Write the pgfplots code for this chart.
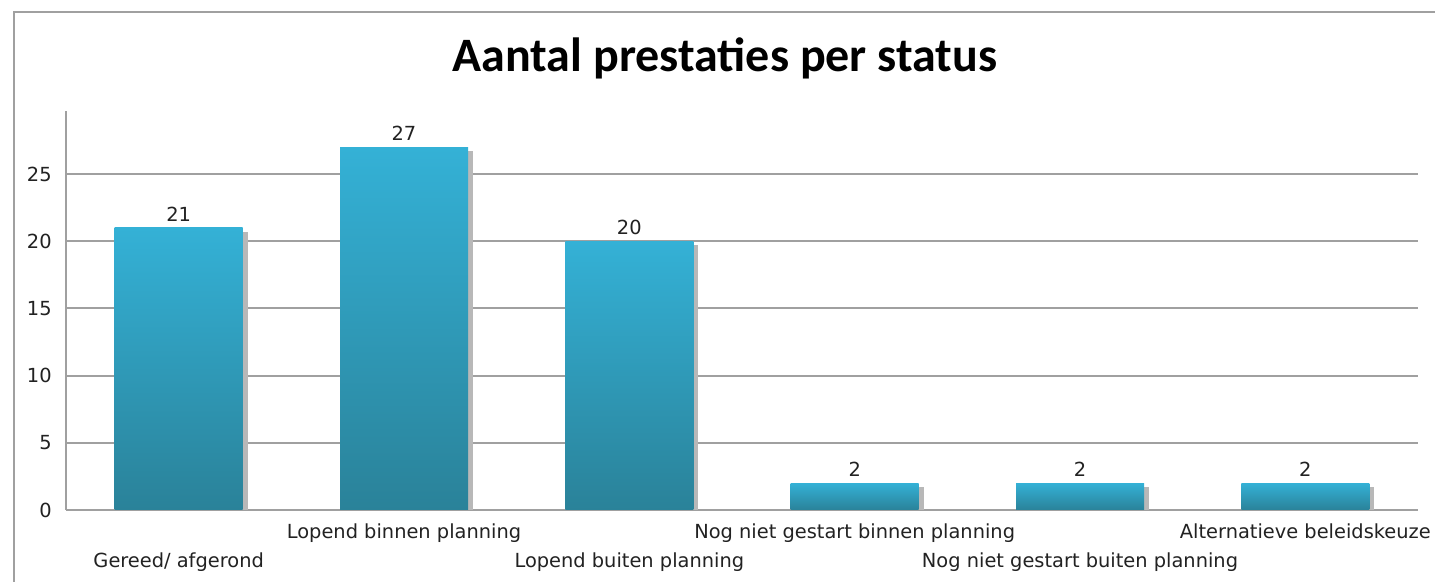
\documentclass[border=0pt]{standalone}
\usepackage{pgfplots}
\pgfplotsset{compat=1.18}
\usepackage{fontspec}
\setmainfont{DejaVu Sans}
\newfontfamily\titlefont{Carlito}
\definecolor{bartop}{HTML}{34B1D6}
\definecolor{barbot}{HTML}{2A8299}
\definecolor{gridc}{HTML}{A0A0A0}
\definecolor{txt}{HTML}{222222}
\pgfplotsset{
  shadowbar/.style={ybar, bar width=64pt, bar shift=2.5pt, fill=black!28, draw=none, yshift=-2pt, forget plot},
  mainbar/.style={ybar, bar width=64pt, bar shift=0pt, draw=none, top color=bartop, bottom color=barbot,
    nodes near coords,
    every node near coord/.append style={anchor=south, inner sep=0pt, yshift=3pt, text=txt, font=\fontsize{9.7pt}{11pt}\selectfont}},
}
\begin{document}
\begin{tikzpicture}
\useasboundingbox (0,0) rectangle (717.5pt,291pt);
\fill[white] (0,0) rectangle (717.5pt,291pt);
\draw[gridc, line width=1pt] (7pt,0) -- (7pt,285pt) -- (717.5pt,285pt);
\node[anchor=base, inner sep=0pt, font=\titlefont\bfseries\fontsize{24pt}{28pt}\selectfont] at (362.5pt,255pt) {Aantal prestaties per status};
\begin{axis}[
  at={(33pt,36pt)}, anchor=south west, scale only axis,
  width=676pt, height=199.5pt,
  xmin=-0.5, xmax=5.5, ymin=0, ymax=29.7,
  axis x line*=bottom, axis y line*=left,
  axis line style={gridc, line width=1pt, -},
  ytick={0,5,10,15,20,25},
  ymajorgrids, grid style={gridc, line width=1pt},
  major tick length=0pt,
  /pgf/number format/assume math mode=true,
  tick label style={font=\fontsize{9.7pt}{11pt}\selectfont, text=txt},
  yticklabel style={anchor=east, inner sep=0pt, xshift=-7pt},
  xtick={0,2,4},
  xticklabels={Gereed/ afgerond, Lopend buiten planning, Nog niet gestart buiten planning},
  xticklabel style={anchor=base, inner sep=0pt, yshift=-29pt},
  extra x ticks={1,3,5},
  extra x tick labels={Lopend binnen planning, Nog niet gestart binnen planning, Alternatieve beleidskeuze},
  extra x tick style={grid=none, xticklabel style={yshift=14.5pt}},
]
\addplot[shadowbar] coordinates {(0,21)};
\addplot[shadowbar] coordinates {(1,27)};
\addplot[shadowbar] coordinates {(2,20)};
\addplot[shadowbar] coordinates {(3,2)};
\addplot[shadowbar] coordinates {(4,2)};
\addplot[shadowbar] coordinates {(5,2)};
\addplot[mainbar] coordinates {(0,21)};
\addplot[mainbar] coordinates {(1,27)};
\addplot[mainbar] coordinates {(2,20)};
\addplot[mainbar] coordinates {(3,2)};
\addplot[mainbar] coordinates {(4,2)};
\addplot[mainbar] coordinates {(5,2)};
\end{axis}
\end{tikzpicture}
\end{document}
